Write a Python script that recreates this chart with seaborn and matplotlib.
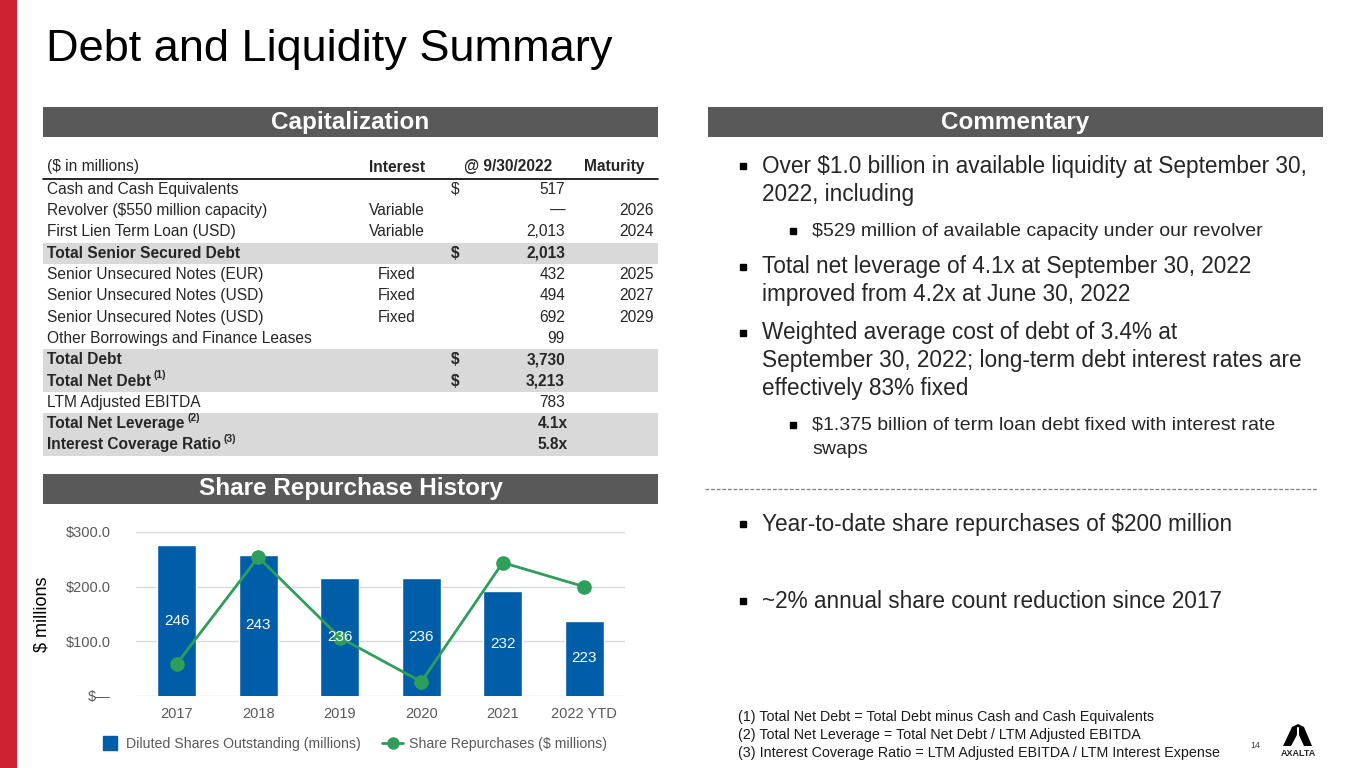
import numpy as np
import matplotlib
matplotlib.use("Agg")
import matplotlib.pyplot as plt
import seaborn as sns
from matplotlib.patches import Rectangle, Polygon
from matplotlib.lines import Line2D

# Chart data
years = ["2017", "2018", "2019", "2020", "2021", "2022 YTD"]
diluted_shares = [246, 243, 236, 236, 232, 223]
repurchases = [59, 254, 107, 26, 244, 200]
ytick_values = [0, 100, 200, 300]
ytick_labels = ["$\u2014", "$100.0", "$200.0", "$300.0"]

# Capitalization table
row_labels = ["Cash and Cash Equivalents", "Revolver ($550 million capacity)",
              "First Lien Term Loan (USD)", "Total Senior Secured Debt",
              "Senior Unsecured Notes (EUR)", "Senior Unsecured Notes (USD)",
              "Senior Unsecured Notes (USD)", "Other Borrowings and Finance Leases",
              "Total Debt", "Total Net Debt", "LTM Adjusted EBITDA",
              "Total Net Leverage", "Interest Coverage Ratio"]
row_notes = ["", "", "", "", "", "", "", "", "", "(1)", "", "(2)", "(3)"]
row_interest = ["", "Variable", "Variable", "", "Fixed", "Fixed", "Fixed", "", "", "", "", "", ""]
row_dollar = ["$", "", "", "$", "", "", "", "", "$", "$", "", "", ""]
row_amount = ["517", "\u2014", "2,013", "2,013", "432", "494", "692", "99",
              "3,730", "3,213", "783", "4.1x", "5.8x"]
row_maturity = ["", "2026", "2024", "", "2025", "2027", "2029", "", "", "", "", "", ""]
row_total = [False, False, False, True, False, False, False, False, True, True, False, True, True]

# Commentary
bullets_top = [
    (1, ["Over $1.0 billion in available liquidity at September 30,", "2022, including"]),
    (2, ["$529 million of available capacity under our revolver"]),
    (1, ["Total net leverage of 4.1x at September 30, 2022", "improved from 4.2x at June 30, 2022"]),
    (1, ["Weighted average cost of debt of 3.4% at",
         "September 30, 2022; long-term debt interest rates are", "effectively 83% fixed"]),
    (2, ["$1.375 billion of term loan debt fixed with interest rate", "swaps"]),
]
bullets_bottom = ["Year-to-date share repurchases of $200 million",
                  "~2% annual share count reduction since 2017"]
footnotes = ["(1) Total Net Debt = Total Debt minus Cash and Cash Equivalents",
             "(2) Total Net Leverage = Total Net Debt / LTM Adjusted EBITDA",
             "(3) Interest Coverage Ratio = LTM Adjusted EBITDA / LTM Interest Expense"]

BLUE = "#005DA8"
GREEN = "#2E9E5B"
HEADER = "#595959"
SHADE = "#D9D9D9"
RED = "#CE2131"
GRAY_TXT = "#595959"

sns.set_theme(style="white")
plt.rcParams["font.family"] = ["Liberation Sans", "DejaVu Sans"]
plt.rcParams["text.parse_math"] = False

W, H = 1365, 768
fig = plt.figure(figsize=(W / 100, H / 100), dpi=100)
fig.patch.set_facecolor("white")

# overlay in pixel coordinates (y down)
ov = fig.add_axes([0, 0, 1, 1])
ov.set_xlim(0, W)
ov.set_ylim(H, 0)
ov.axis("off")

ov.add_patch(Rectangle((0, 0), 17, H, color=RED, lw=0))
ov.text(46, 61, "Debt and Liquidity Summary", fontsize=32.5, va="baseline", ha="left", color="black")

# section headers
for x0, x1, y0, label in [(43, 658, 107, "Capitalization"), (708, 1323, 107, "Commentary"),
                          (43, 658, 474, "Share Repurchase History")]:
    ov.add_patch(Rectangle((x0, y0), x1 - x0, 30, color=HEADER, lw=0))
    ov.text((x0 + x1) / 2, y0 + 15, label, color="white", fontsize=17.5, fontweight="bold",
            ha="center", va="center")

# table
fs_tab = 11.2
ov.text(47, 167, "($ in millions)", fontsize=fs_tab, va="center")
ov.text(397, 167, "Interest", fontsize=fs_tab, va="center", ha="center", fontweight="bold")
ov.text(508, 167, "@ 9/30/2022", fontsize=fs_tab, va="center", ha="center", fontweight="bold")
ov.text(614, 167, "Maturity", fontsize=fs_tab, va="center", ha="center", fontweight="bold")
ov.plot([43, 658], [178.5, 178.5], color="black", lw=1.2)

row_h = 21.3
renderer = fig.canvas.get_renderer()
for i, lab in enumerate(row_labels):
    yc = 189.3 + i * row_h
    if row_total[i]:
        ov.add_patch(Rectangle((43, yc - row_h / 2), 615, row_h, color=SHADE, lw=0, zorder=0))
    fw = "bold" if row_total[i] else "normal"
    t = ov.text(47, yc, lab, fontsize=fs_tab, va="center", fontweight=fw)
    if row_notes[i]:
        bb = t.get_window_extent(renderer)
        ov.text(bb.x1 + 3, yc - 6, row_notes[i], fontsize=7.5, va="center", fontweight=fw)
    ov.text(397, yc, row_interest[i], fontsize=fs_tab, va="center", ha="center")
    ov.text(451, yc, row_dollar[i], fontsize=fs_tab, va="center", fontweight=fw)
    xr = 568 if row_amount[i].endswith("x") else 565
    ov.text(xr, yc, row_amount[i], fontsize=fs_tab, va="center", ha="right", fontweight=fw)
    ov.text(654, yc, row_maturity[i], fontsize=fs_tab, va="center", ha="right")

# commentary
line_ys = [[166, 194], [231], [267, 294], [333, 361, 388], [425, 450]]
for (lvl, lines), ys in zip(bullets_top, line_ys):
    if lvl == 1:
        bx, tx, fs, bs = 743, 762, 16.3, 4.6
    else:
        bx, tx, fs, bs = 793, 812, 14, 4.0
    ov.plot([bx], [ys[0]], marker="s", color="black", markersize=bs, ls="none")
    for ln, y in zip(lines, ys):
        ov.text(tx, y, ln, fontsize=fs, va="center", ha="left")

ov.plot([705, 1318], [489, 489], color="#7F7F7F", lw=0.9, ls=(0, (3, 1.5)))
for ln, y in zip(bullets_bottom, [524, 601]):
    ov.plot([743], [y], marker="s", color="black", markersize=4.6, ls="none")
    ov.text(762, y, ln, fontsize=16.3, va="center")

for ln, y in zip(footnotes, [717, 735, 753]):
    ov.text(738, y, ln, fontsize=10.25, va="center", color="#1A1A1A")

ov.text(1255, 745, "14", fontsize=6.5, va="center", ha="center", color="#404040")
# logo
ov.add_patch(Polygon([[1283, 746], [1292, 727], [1298, 724], [1304, 727], [1312, 746],
                      [1304, 746], [1298, 733], [1291, 746]], closed=True, color="black", lw=0))
ov.plot([1298, 1298], [728, 744], color="white", lw=1.5)
ov.text(1298, 754, "AXALTA", fontsize=6.5, fontweight="bold", ha="center", va="center")

# share repurchase chart
left, right, top, bottom = 136, 625, 532, 696
ax = fig.add_axes([left / W, (H - bottom) / H, (right - left) / W, (bottom - top) / H])
ax2 = ax.twinx()

sns.barplot(x=years, y=diluted_shares, ax=ax2, color=BLUE, width=0.48, saturation=1)
sns.pointplot(x=years, y=repurchases, ax=ax, color=GREEN, markersize=9, linewidth=2)

bar_lo, bar_hi = 200, 250
ax2.set_ylim(bar_lo, bar_hi)
ax2.set_yticks([bar_lo + v * (bar_hi - bar_lo) / 300 for v in ytick_values])
ax2.yaxis.grid(True, color="#D9D9D9", lw=1)
ax2.set_yticklabels([])
ax2.tick_params(length=0)
ax2.set_ylabel("")
ax2.set_axisbelow(True)

ax.set_ylim(0, 300)
ax.set_xlim(-0.5, len(years) - 0.5)
ax.set_yticks(ytick_values)
ax.set_yticklabels(ytick_labels)
ax.tick_params(axis="both", length=0, labelsize=10.5, colors=GRAY_TXT)
ax.tick_params(axis="y", pad=18)
ax.tick_params(axis="x", pad=8)
ax.set_ylabel("$ millions", fontsize=13, color="black", labelpad=11)
ax.set_xlabel("")
ax.set_zorder(ax2.get_zorder() + 1)
ax.patch.set_visible(False)
for a in (ax, ax2):
    for s in a.spines.values():
        s.set_visible(False)

for i, v in enumerate(diluted_shares):
    ax.annotate(str(v), xy=(i, (bar_lo + v) / 2), xycoords=ax2.transData,
                ha="center", va="center", color="white", fontsize=11, zorder=6)

handles = [Line2D([], [], marker="s", color=BLUE, ls="none", markersize=10),
           Line2D([], [], marker="o", color=GREEN, lw=2, markersize=8)]
fig.legend(handles, ["Diluted Shares Outstanding (millions)", "Share Repurchases ($ millions)"],
           loc="center", bbox_to_anchor=(353 / W, (H - 744) / H), ncol=2, frameon=False,
           fontsize=10.15, labelcolor=GRAY_TXT, handlelength=1.5, handletextpad=0.4,
           columnspacing=1.5)

fig.savefig("out.png", dpi=100)
